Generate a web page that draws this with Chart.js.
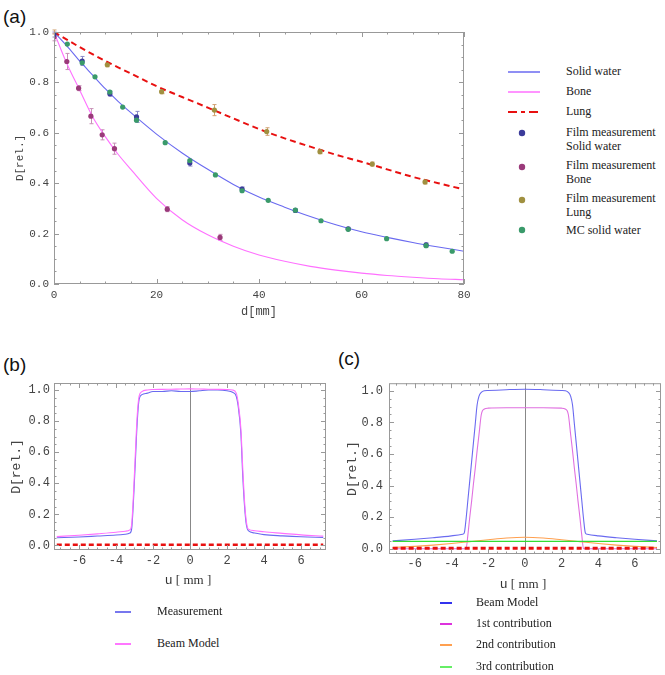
<!DOCTYPE html>
<html>
<head>
<meta charset="utf-8">
<script src="https://cdn.jsdelivr.net/npm/chart.js@4.4.1/dist/chart.umd.min.js"></script>
<style>
  body { margin: 0; background: #fff; width: 665px; height: 675px; position: relative; overflow: hidden; }
  canvas { position: absolute; }
  .t { position: absolute; white-space: nowrap; transform: translateY(-50%); }
  .panel { font-family: 'Liberation Sans', sans-serif; font-size: 19px; color: #111; }
  .lg { font-family: 'Liberation Serif', serif; font-size: 12px; color: #222; line-height: 13.5px; }
  .xt { font-family: 'Liberation Serif', serif; font-size: 13px; color: #333; transform: translate(-50%, -50%); }
  .xt span { font-family: 'Liberation Mono', monospace; }
  svg { position: absolute; overflow: visible; }
</style>
</head>
<body>

<div class="t panel" style="left:3px;top:17px">(a)</div>
<div class="t panel" style="left:3px;top:365px">(b)</div>
<div class="t panel" style="left:338px;top:359px">(c)</div>

<canvas id="ca" width="480" height="320" style="left:0;top:0"></canvas>
<canvas id="cb" width="330" height="225" style="left:0;top:370px"></canvas>
<canvas id="cc" width="335" height="225" style="left:330px;top:370px"></canvas>

<div class="t xt" style="left:188px;top:580px"><span>u</span> [ mm ]</div>
<div class="t xt" style="left:523px;top:584px"><span>u</span> [ mm ]</div>

<!-- legend (a) -->
<svg style="left:508px;top:72px" width="32" height="1"><line x1="0" y1="0" x2="32" y2="0" stroke="#6a6af0" stroke-width="1.5"/></svg>
<div class="t lg" style="left:566px;top:72px">Solid water</div>
<svg style="left:508px;top:92px" width="32" height="1"><line x1="0" y1="0" x2="32" y2="0" stroke="#ff70ff" stroke-width="1.5"/></svg>
<div class="t lg" style="left:566px;top:92px">Bone</div>
<svg style="left:508px;top:112px" width="32" height="1"><line x1="0" y1="0" x2="32" y2="0" stroke="#e81010" stroke-width="2" stroke-dasharray="9 4 4 4"/></svg>
<div class="t lg" style="left:566px;top:112px">Lung</div>
<svg style="left:522px;top:133px" width="1" height="1"><circle cx="0" cy="0" r="3.2" fill="#3b3b9a"/></svg>
<div class="t lg" style="left:566px;top:139px">Film measurement<br>Solid water</div>
<svg style="left:522px;top:167px" width="1" height="1"><circle cx="0" cy="0" r="3.2" fill="#9a3a7a"/></svg>
<div class="t lg" style="left:566px;top:172px">Film measurement<br>Bone</div>
<svg style="left:522px;top:200px" width="1" height="1"><circle cx="0" cy="0" r="3.2" fill="#a09040"/></svg>
<div class="t lg" style="left:566px;top:205px">Film measurement<br>Lung</div>
<svg style="left:522px;top:230px" width="1" height="1"><circle cx="0" cy="0" r="3.2" fill="#3a9a6a"/></svg>
<div class="t lg" style="left:566px;top:231px">MC solid water</div>

<!-- legend (b) -->
<svg style="left:115px;top:612px" width="16" height="1"><line x1="0" y1="0" x2="16" y2="0" stroke="#7777ee" stroke-width="2"/></svg>
<div class="t lg" style="left:157px;top:612px">Measurement</div>
<svg style="left:115px;top:644px" width="16" height="1"><line x1="0" y1="0" x2="16" y2="0" stroke="#ff77ff" stroke-width="2"/></svg>
<div class="t lg" style="left:157px;top:644px">Beam Model</div>

<!-- legend (c) -->
<svg style="left:440px;top:603px" width="12" height="1"><line x1="0" y1="0" x2="12" y2="0" stroke="#3333ee" stroke-width="2"/></svg>
<div class="t lg" style="left:476px;top:603px">Beam Model</div>
<svg style="left:440px;top:624px" width="12" height="1"><line x1="0" y1="0" x2="12" y2="0" stroke="#dd33dd" stroke-width="2"/></svg>
<div class="t lg" style="left:476px;top:624px">1st contribution</div>
<svg style="left:440px;top:645px" width="12" height="1"><line x1="0" y1="0" x2="12" y2="0" stroke="#ffa050" stroke-width="2"/></svg>
<div class="t lg" style="left:476px;top:645px">2nd contribution</div>
<svg style="left:440px;top:667px" width="12" height="1"><line x1="0" y1="0" x2="12" y2="0" stroke="#66ee66" stroke-width="2"/></svg>
<div class="t lg" style="left:476px;top:667px">3rd contribution</div>

<script>
// ---- (a) depth dose, fitted curves read at fixed depths [mm]
const depth    = [0, 2.5, 5, 7.5, 10, 12.5, 15, 20, 25, 30, 35, 40, 45, 50, 55, 60, 65, 70, 75, 80];
const waterFit = [1.0, 0.945, 0.885, 0.83, 0.775, 0.725, 0.68, 0.595, 0.52, 0.455, 0.395, 0.345, 0.305, 0.268, 0.235, 0.207, 0.185, 0.165, 0.147, 0.13];
const boneFit  = [1.0, 0.875, 0.77, 0.665, 0.585, 0.515, 0.455, 0.34, 0.255, 0.195, 0.15, 0.115, 0.09, 0.07, 0.055, 0.043, 0.034, 0.027, 0.021, 0.017];
const lungFit  = [1.0, 0.97, 0.94, 0.912, 0.885, 0.86, 0.835, 0.785, 0.742, 0.70, 0.657, 0.615, 0.578, 0.545, 0.513, 0.485, 0.455, 0.425, 0.4, 0.375];

// film measurements and MC points
const filmWaterD   = [0, 5.5, 10.9, 16.1, 26.5, 36.7, 47.1, 57.4, 72.6];
const filmWaterV   = [0.99, 0.885, 0.755, 0.663, 0.48, 0.377, 0.292, 0.219, 0.155];
const filmWaterErr = [0.01, 0.018, 0.01, 0.022, 0.012, 0.008, 0.006, 0.006, 0.008];
const filmBoneD    = [0, 2.5, 4.8, 7.2, 9.4, 11.8, 22.1, 32.4];
const filmBoneV    = [0.98, 0.883, 0.777, 0.666, 0.592, 0.537, 0.297, 0.185];
const filmBoneErr  = [0.015, 0.032, 0.01, 0.03, 0.02, 0.022, 0.01, 0.012];
const filmLungD    = [0, 10.4, 21.0, 31.3, 41.5, 51.9, 62.1, 72.4];
const filmLungV    = [1.0, 0.87, 0.763, 0.69, 0.605, 0.525, 0.476, 0.405];
const filmLungErr  = [0.008, 0.008, 0.008, 0.022, 0.015, 0.008, 0.008, 0.008];
const mcWaterD     = [2.6, 5.5, 8.0, 10.9, 13.4, 16.1, 21.7, 26.5, 31.5, 36.7, 41.8, 47.1, 52.1, 57.4, 64.9, 72.6, 77.7];
const mcWaterV     = [0.952, 0.878, 0.822, 0.762, 0.702, 0.65, 0.561, 0.49, 0.433, 0.37, 0.332, 0.293, 0.251, 0.217, 0.18, 0.152, 0.13];

const ticksAx = [0, 20, 40, 60, 80];
const ticksD  = [0, 0.2, 0.4, 0.6, 0.8, 1.0];

// ---- (b) lateral profile [mm]
const uB     = [-7.2, -6, -5, -4, -3.5, -3.25, -3.15, -3.05, -2.95, -2.85, -2.75, -2.6, -2.3, -2, -1.5, -1, -0.5, 0, 0.5, 1, 1.5, 2, 2.3, 2.5, 2.6, 2.75, 2.85, 2.95, 3.05, 3.15, 3.5, 4, 5, 6, 7.2];
const measB  = [0.05, 0.055, 0.061, 0.067, 0.072, 0.08, 0.11, 0.3, 0.55, 0.8, 0.94, 0.97, 0.98, 0.99, 0.99, 0.995, 0.99, 0.99, 0.995, 1.0, 1.0, 0.995, 0.985, 0.96, 0.9, 0.72, 0.45, 0.25, 0.13, 0.095, 0.08, 0.07, 0.062, 0.056, 0.052];
const modelB = [0.057, 0.066, 0.075, 0.085, 0.092, 0.1, 0.14, 0.34, 0.6, 0.84, 0.96, 0.99, 1.0, 1.003, 1.004, 1.005, 1.006, 1.007, 1.006, 1.005, 1.004, 1.003, 1.0, 0.98, 0.92, 0.75, 0.5, 0.28, 0.15, 0.105, 0.095, 0.088, 0.078, 0.068, 0.06];

// ---- (c) beam model contributions
const uC     = [-7.2, -6, -5, -4, -3.4, -3.3, -3.2, -3.1, -3.0, -2.9, -2.8, -2.7, -2.6, -2.5, -2.37, -2.2, -2, -1, 0, 1, 2, 2.2, 2.37, 2.5, 2.6, 2.7, 2.8, 2.9, 3.0, 3.1, 3.2, 3.3, 3.4, 4, 5, 6, 7.2];
const beamC  = [0.05, 0.06, 0.07, 0.082, 0.092, 0.1, 0.19, 0.31, 0.43, 0.55, 0.67, 0.79, 0.91, 0.965, 0.99, 1.0, 1.002, 1.007, 1.01, 1.007, 1.002, 1.0, 0.99, 0.965, 0.91, 0.79, 0.67, 0.55, 0.43, 0.31, 0.19, 0.1, 0.092, 0.082, 0.07, 0.06, 0.05];
const firstC = [0, 0, 0, 0, 0, 0, 0, 0.09, 0.2, 0.3, 0.41, 0.51, 0.62, 0.72, 0.85, 0.885, 0.89, 0.893, 0.893, 0.893, 0.89, 0.885, 0.85, 0.72, 0.62, 0.51, 0.41, 0.3, 0.2, 0.09, 0, 0, 0, 0, 0, 0, 0];
const uSecond = [-7.2, -6, -5, -4, -3, -2, -1, 0, 1, 2, 3, 4, 5, 6, 7.2];
const secondC = [0.008, 0.015, 0.023, 0.033, 0.045, 0.057, 0.068, 0.073, 0.068, 0.057, 0.045, 0.033, 0.023, 0.015, 0.008];
const uEnds   = [-7.2, 7.2];
const thirdC  = [0.047, 0.047];
const lungB   = [0.005, 0.005];
const lungC   = [0.004, 0.004];

const ticksU = [-6, -4, -2, 0, 2, 4, 6];

const pts = (xs, ys) => xs.map((x, i) => ({ x, y: ys[i] }));

// Mathematica style frame: box, inward ticks, optional axis at x=0
const frameBox = {
  id: 'frameBox',
  beforeDatasetsDraw(chart, args, o) {
    if (!o.zero) return;
    const { ctx, chartArea: a, scales: { x } } = chart;
    const px = Math.round(x.getPixelForValue(0)) + 0.5;
    ctx.save();
    ctx.strokeStyle = '#888';
    ctx.lineWidth = 1;
    ctx.beginPath();
    ctx.moveTo(px, a.top);
    ctx.lineTo(px, a.bottom);
    ctx.stroke();
    ctx.restore();
  },
  afterDatasetsDraw(chart, args, o) {
    const { ctx, chartArea: a, scales: { x, y } } = chart;
    ctx.save();
    ctx.strokeStyle = '#999';
    ctx.lineWidth = 1;
    ctx.strokeRect(a.left + 0.5, a.top + 0.5, a.right - a.left - 1, a.bottom - a.top - 1);
    ctx.beginPath();
    const n0 = Math.ceil(x.min / o.xMinor), n1 = Math.floor(x.max / o.xMinor);
    for (let n = n0; n <= n1; n++) {
      const v = n * o.xMinor;
      const len = Math.abs(v / o.xMajor - Math.round(v / o.xMajor)) < 1e-6 ? 5 : 2.5;
      const px = Math.round(x.getPixelForValue(v)) + 0.5;
      ctx.moveTo(px, a.bottom); ctx.lineTo(px, a.bottom - len);
      ctx.moveTo(px, a.top); ctx.lineTo(px, a.top + len);
    }
    const m0 = Math.ceil(y.min / o.yMinor - 1e-6), m1 = Math.floor(y.max / o.yMinor + 1e-6);
    for (let n = m0; n <= m1; n++) {
      const v = n * o.yMinor;
      const len = Math.abs(v / o.yMajor - Math.round(v / o.yMajor)) < 1e-6 ? 5 : 2.5;
      const py = Math.round(y.getPixelForValue(v)) + 0.5;
      ctx.moveTo(a.left, py); ctx.lineTo(a.left + len, py);
      ctx.moveTo(a.right, py); ctx.lineTo(a.right - len, py);
    }
    ctx.stroke();
    ctx.restore();
  }
};

const errorBars = {
  id: 'errorBars',
  beforeDatasetsDraw(chart) {
    const { ctx, scales: { y } } = chart;
    ctx.save();
    ctx.lineWidth = 1;
    chart.data.datasets.forEach((ds, i) => {
      if (!ds.errors) return;
      const meta = chart.getDatasetMeta(i);
      ctx.strokeStyle = ds.errorColor;
      ctx.beginPath();
      ds.data.forEach((p, j) => {
        const px = Math.round(meta.data[j].x) + 0.5;
        const t = y.getPixelForValue(p.y + ds.errors[j]);
        const b = y.getPixelForValue(p.y - ds.errors[j]);
        ctx.moveTo(px, t); ctx.lineTo(px, b);
        ctx.moveTo(px - 2, t); ctx.lineTo(px + 2, t);
        ctx.moveTo(px - 2, b); ctx.lineTo(px + 2, b);
      });
      ctx.stroke();
    });
    ctx.restore();
  }
};

const mono = size => ({ family: "'Liberation Mono', monospace", size });

function axes(xr, yr, xTicks, yTicks, s) {
  return {
    x: {
      type: 'linear', min: xr[0], max: xr[1],
      grid: { display: false, drawTicks: false }, border: { display: false },
      afterBuildTicks: sc => { sc.ticks = xTicks.map(value => ({ value })); },
      afterFit: sc => { sc.height = s.xh; },
      ticks: { padding: s.xpad, color: '#444', font: mono(s.tick), maxRotation: 0, autoSkip: false, callback: v => String(v) },
      title: s.xTitle ? { display: true, text: s.xTitle, color: '#444', font: mono(12), padding: { top: 0, bottom: 1 } } : { display: false }
    },
    y: {
      type: 'linear', min: yr[0], max: yr[1],
      grid: { display: false, drawTicks: false }, border: { display: false },
      afterBuildTicks: sc => { sc.ticks = yTicks.map(value => ({ value })); },
      afterFit: sc => { sc.width = s.yw; },
      ticks: { padding: s.ypad, color: '#444', font: mono(s.tick), autoSkip: false, callback: v => v.toFixed(1) },
      title: { display: true, text: 'D[rel.]', color: '#444', font: mono(s.ytFont), padding: { top: s.ytPad, bottom: 0 } }
    }
  };
}

function baseOptions(pad, scales, frame) {
  return {
    responsive: false, animation: false, events: [],
    layout: { padding: pad },
    plugins: { legend: { display: false }, tooltip: { enabled: false }, frameBox: frame },
    scales
  };
}

const curve = (data, color, width, extra) => Object.assign({
  data, showLine: true, borderColor: color, borderWidth: width, pointRadius: 0,
  cubicInterpolationMode: 'monotone', order: 2
}, extra || {});

const dots = (data, color, errors, errorColor) => ({
  data, backgroundColor: color, borderColor: color, pointRadius: 2.6, pointBorderWidth: 0,
  showLine: false, errors, errorColor, order: 1
});

// ---- chart (a)
new Chart(document.getElementById('ca'), {
  type: 'scatter',
  data: {
    datasets: [
      dots(pts(mcWaterD, mcWaterV), '#3a9a6a'),
      dots(pts(filmWaterD, filmWaterV), '#3b3b9a', filmWaterErr, '#8a8ac8'),
      dots(pts(filmBoneD, filmBoneV), '#9a3a7a', filmBoneErr, '#c890b8'),
      dots(pts(filmLungD, filmLungV), '#a09040', filmLungErr, '#d0a070'),
      curve(pts(depth, lungFit), '#e81010', 2, { borderDash: [6, 4] }),
      curve(pts(depth, waterFit), '#6a6af0', 1.1),
      curve(pts(depth, boneFit), '#ff70ff', 1.1)
    ]
  },
  options: baseOptions({ left: 0, top: 32, right: 16, bottom: 0 },
    axes([0, 80], [0, 1], ticksAx, ticksD,
      { xh: 36, xpad: 4, yw: 54, ypad: 5, tick: 11, xTitle: 'd[mm]', ytFont: 11, ytPad: 13 }),
    { xMinor: 5, xMajor: 20, yMinor: 0.05, yMajor: 0.2 }),
  plugins: [frameBox, errorBars]
});

// ---- chart (b)
new Chart(document.getElementById('cb'), {
  type: 'scatter',
  data: {
    datasets: [
      curve(pts(uEnds, lungB), '#e81010', 2.5, { borderDash: [5, 3], cubicInterpolationMode: 'default' }),
      curve(pts(uB, modelB), '#ff70ff', 1.1),
      curve(pts(uB, measB), '#6a6af0', 1.1)
    ]
  },
  options: baseOptions({ left: 0, top: 13, right: 4, bottom: 0 },
    axes([-7.35, 7.35], [-0.029, 1.045], ticksU, ticksD,
      { xh: 45, xpad: 4, yw: 54, ypad: 4, tick: 12, ytFont: 13, ytPad: 9 }),
    { xMinor: 0.5, xMajor: 2, yMinor: 0.05, yMajor: 0.2, zero: true }),
  plugins: [frameBox]
});

// ---- chart (c)
new Chart(document.getElementById('cc'), {
  type: 'scatter',
  data: {
    datasets: [
      curve(pts(uEnds, lungC), '#e81010', 3, { borderDash: [5, 3], cubicInterpolationMode: 'default' }),
      curve(pts(uEnds, thirdC), '#33dd33', 1.1, { cubicInterpolationMode: 'default' }),
      curve(pts(uSecond, secondC), '#ffa050', 1.1),
      curve(pts(uC, firstC), '#e070e0', 1.1),
      curve(pts(uC, beamC), '#6a6af0', 1.1)
    ]
  },
  options: baseOptions({ left: 0, top: 12, right: 4, bottom: 0 },
    axes([-7.4, 7.42], [-0.033, 1.048], ticksU, ticksD,
      { xh: 41, xpad: 3, yw: 59, ypad: 6, tick: 12, ytFont: 13, ytPad: 15 }),
    { xMinor: 0.5, xMajor: 2, yMinor: 0.05, yMajor: 0.2, zero: true }),
  plugins: [frameBox]
});
</script>
</body>
</html>
